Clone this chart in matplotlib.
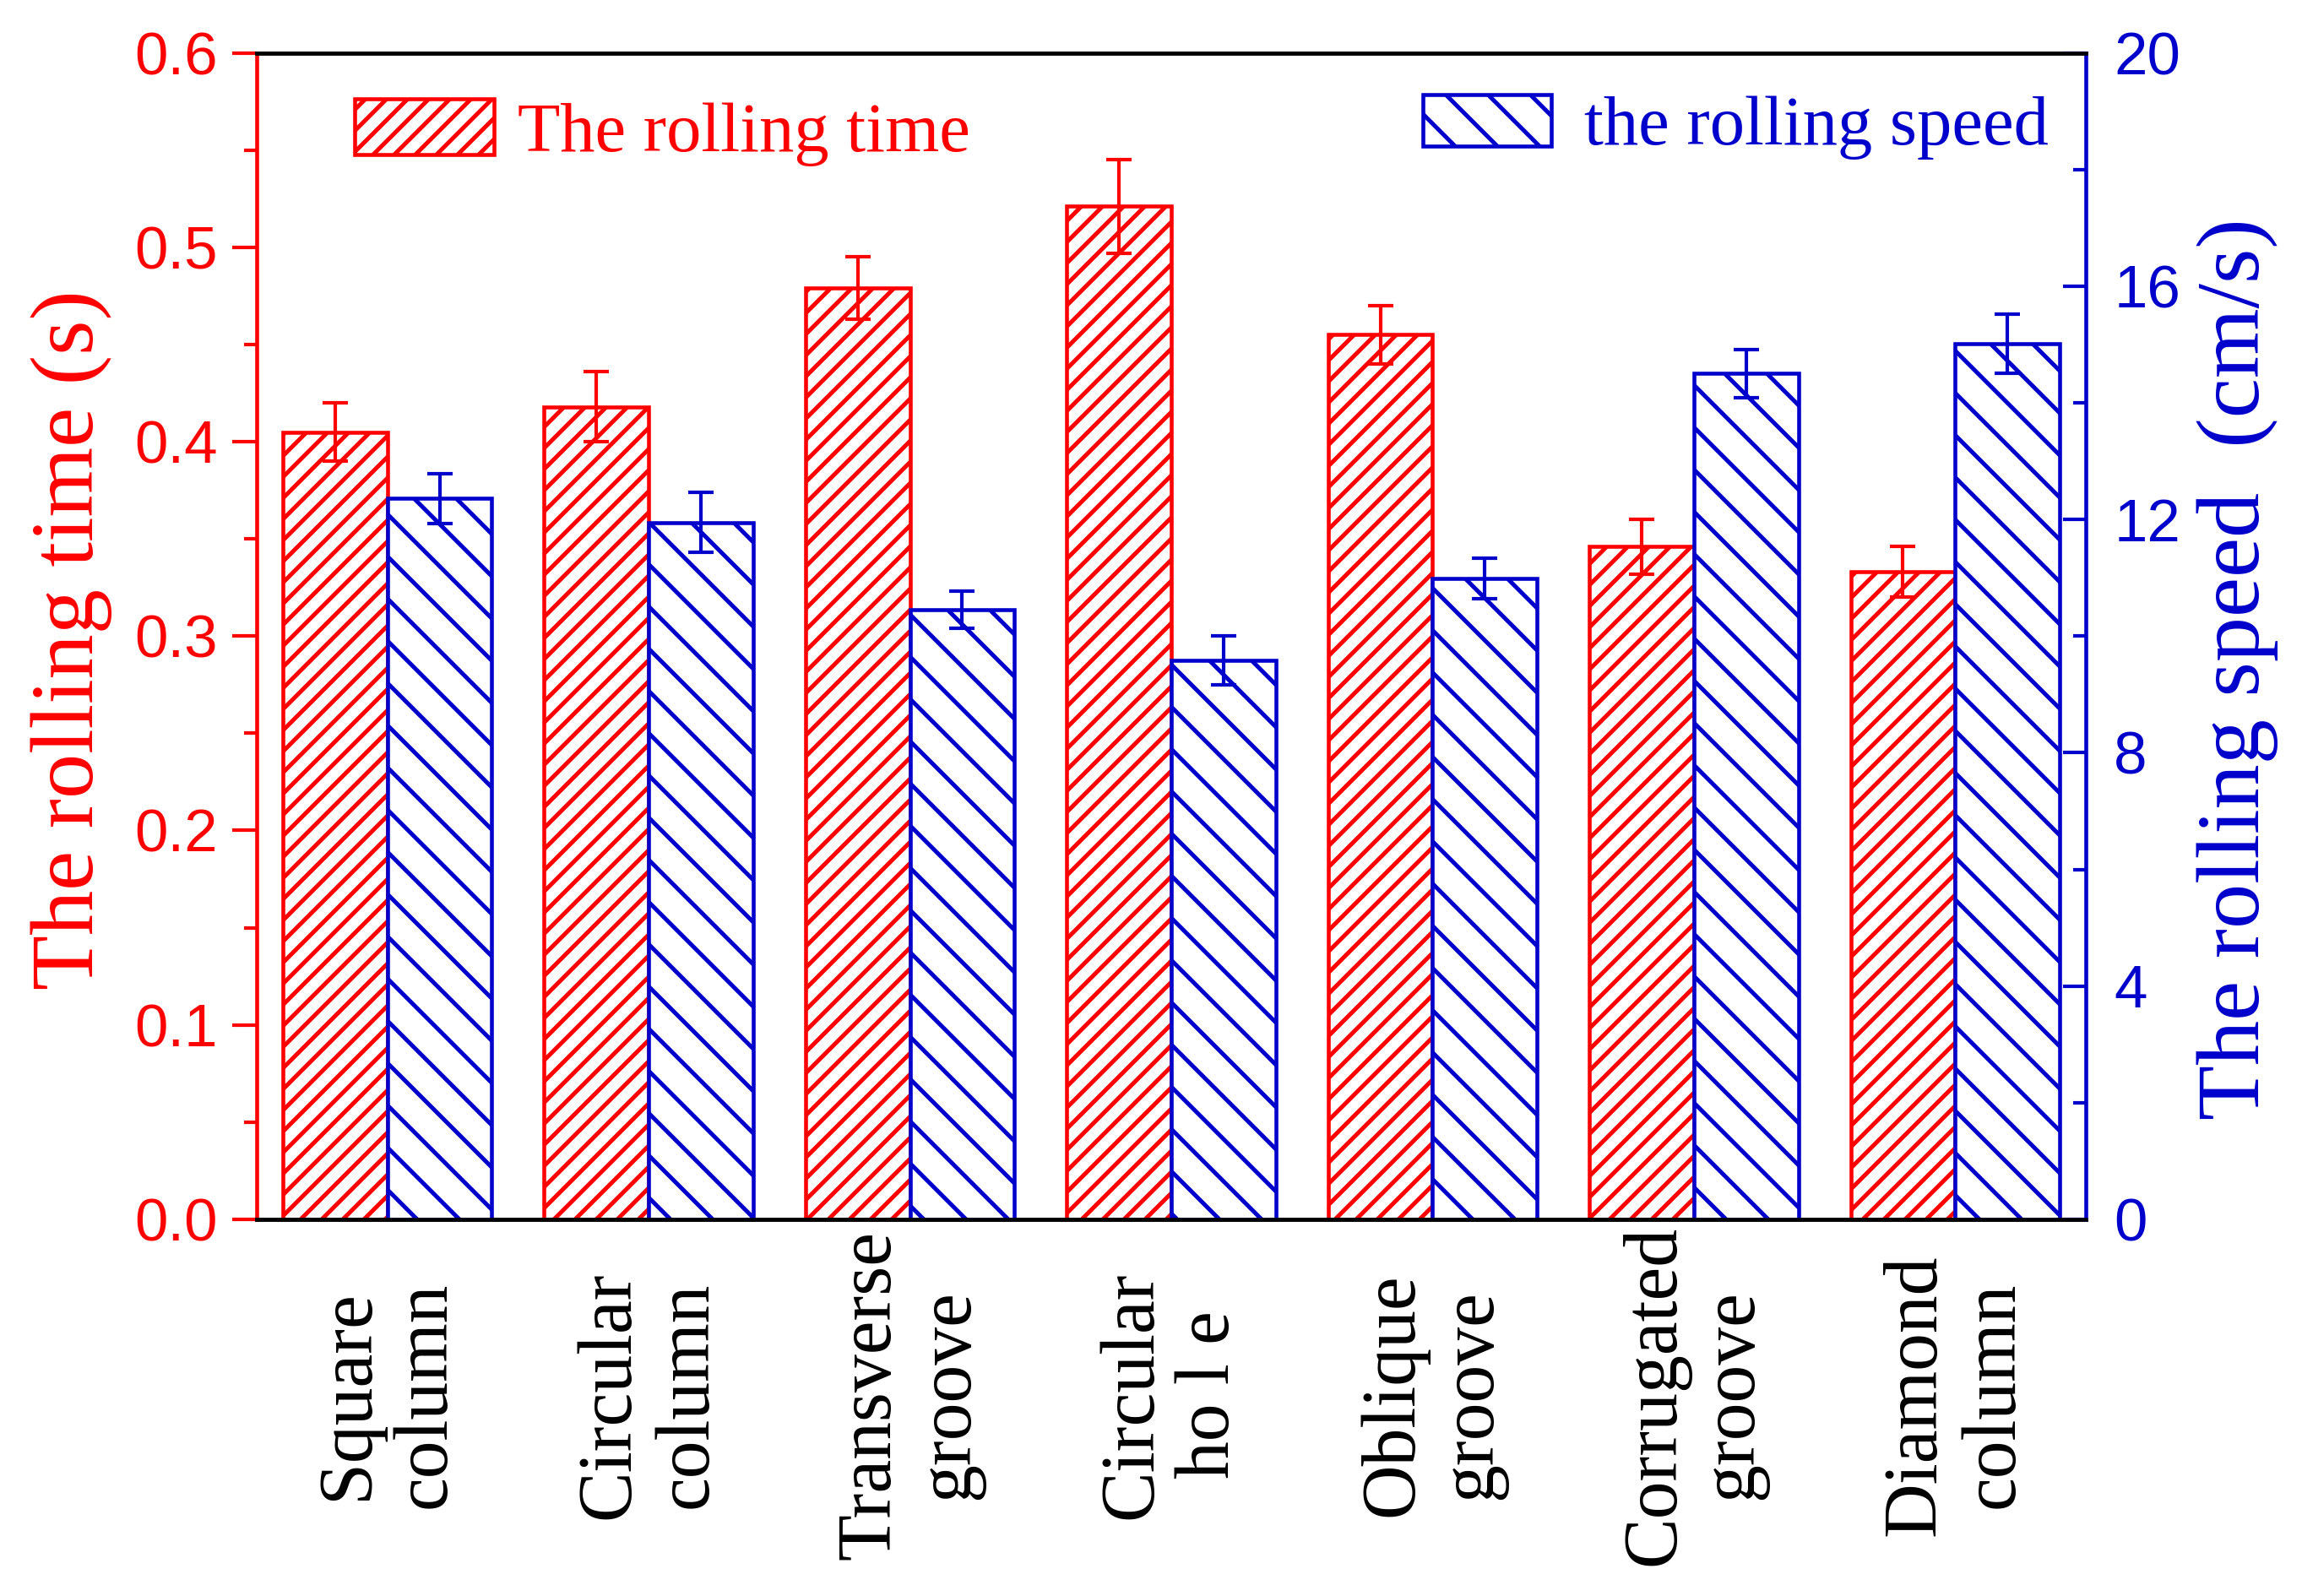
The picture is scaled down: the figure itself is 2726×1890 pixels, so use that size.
import numpy as np
import matplotlib
matplotlib.use("Agg")
import matplotlib.pyplot as plt
from matplotlib.ticker import MultipleLocator

# ---- data ----
categories = ["Square\ncolumn", "Circular\ncolumn", "Transverse\ngroove", "Circular\nho l e",
              "Oblique\ngroove", "Corrugated\ngroove", "Diamond\ncolumn"]
rolling_time = [0.405, 0.418, 0.479, 0.521, 0.455, 0.346, 0.333]
rolling_time_err = [0.015, 0.018, 0.016, 0.024, 0.015, 0.014, 0.013]
rolling_speed = [12.36, 11.95, 10.45, 9.59, 10.99, 14.50, 15.01]
rolling_speed_err = [0.43, 0.52, 0.32, 0.42, 0.35, 0.41, 0.51]

RED = "#ff0000"
BLUE = "#0000cc"
SERIF = "Liberation Serif"
SANS = "Liberation Sans"

plt.rcParams["hatch.linewidth"] = 2.4
plt.rcParams["font.family"] = SANS

fig = plt.figure(figsize=(2726 / 150, 1890 / 150), dpi=150)
ax = fig.add_axes([0.1115, 0.236, 0.9061 - 0.1115, 0.9669 - 0.236])
ax2 = ax.twinx()

x = np.arange(len(categories))
w = 0.4

b1 = ax.bar(x - w / 2, rolling_time, w, facecolor="white", edgecolor=RED,
            hatch="//", linewidth=2.2, label="The rolling time")
ax.errorbar(x - w / 2, rolling_time, yerr=rolling_time_err, fmt="none",
            ecolor=RED, elinewidth=2.0, capsize=7.4, capthick=2.0)

b2 = ax2.bar(x + w / 2, rolling_speed, w, facecolor="white", edgecolor=BLUE,
             hatch="\\", linewidth=2.2, label="the rolling speed")
ax2.errorbar(x + w / 2, rolling_speed, yerr=rolling_speed_err, fmt="none",
             ecolor=BLUE, elinewidth=2.0, capsize=7.4, capthick=2.0)

# ---- axes ----
ax.set_xlim(-0.5, len(categories) - 0.5)
ax.set_ylim(0, 0.6)
ax2.set_ylim(0, 20)

ax.yaxis.set_major_locator(MultipleLocator(0.1))
ax.yaxis.set_minor_locator(MultipleLocator(0.05))
ax.yaxis.set_major_formatter(plt.FuncFormatter(lambda v, p: f"{v:.1f}"))
ax2.yaxis.set_major_locator(MultipleLocator(4))
ax2.yaxis.set_minor_locator(MultipleLocator(2))

ax.tick_params(axis="y", which="major", direction="out", length=14, width=2,
               colors=RED, labelsize=34, pad=8)
ax.tick_params(axis="y", which="minor", direction="out", length=7, width=2, colors=RED)
ax2.tick_params(axis="y", which="major", direction="in", length=13, width=2,
                colors=BLUE, labelsize=34, pad=16)
ax2.tick_params(axis="y", which="minor", direction="in", length=7, width=2, colors=BLUE)
ax.tick_params(axis="x", length=0, labelbottom=False)

for a in (ax, ax2):
    for s in a.spines.values():
        s.set_linewidth(2.2)
    a.spines["top"].set_color("black")
    a.spines["bottom"].set_color("black")
ax.spines["left"].set_color(RED)
ax2.spines["left"].set_visible(False)
ax.spines["right"].set_visible(False)
ax2.spines["right"].set_color(BLUE)

# category labels, two lines, rotated
for i, lab in enumerate(categories):
    ax.text(i, -0.1506, lab, transform=ax.get_xaxis_transform(), rotation=90,
            ha="center", va="center", multialignment="center",
            fontsize=43, family=SERIF, color="black", linespacing=1.15)

# axis titles
fig.text(0.0312, 0.599, "The rolling time (s)", rotation=90, ha="center", va="center",
         fontsize=51, family=SERIF, color=RED)
fig.text(0.972, 0.581, "The rolling speed  (cm/s)", rotation=90, ha="center", va="center",
         fontsize=51, family=SERIF, color=BLUE)

# legends
leg1 = ax.legend(handles=[b1], loc="center left", bbox_to_anchor=(0.0536, 0.9316),
                 frameon=False, borderpad=0, borderaxespad=0, handlelength=2.0,
                 handleheight=0.85, handletextpad=0.34,
                 prop={"family": SERIF, "size": 39.6})
for t in leg1.get_texts():
    t.set_color(RED)
leg2 = ax2.legend(handles=[b2], loc="center right", bbox_to_anchor=(0.9797, 0.936),
                  frameon=False, borderpad=0, borderaxespad=0, handlelength=1.85,
                  handleheight=0.75, handletextpad=0.47,
                  prop={"family": SERIF, "size": 39.6})
for t in leg2.get_texts():
    t.set_color(BLUE)

fig.savefig("out.png", dpi=150, facecolor="white")
